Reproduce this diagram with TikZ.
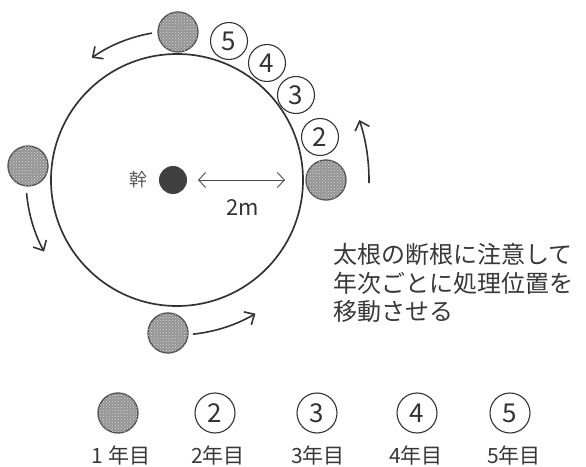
\documentclass[tikz,border=0pt]{standalone}
\usepackage{fontspec}
\setmainfont{Noto Sans CJK JP}
\usetikzlibrary{arrows.meta,patterns}
\begin{document}
\begin{tikzpicture}[x=1pt,y=1pt,
  root/.style={circle,draw=black!70,line width=1.3pt,fill=black!42,
    postaction={pattern=crosshatch dots,pattern color=white!85!black},
    minimum size=40pt,inner sep=0pt},
  yr/.style={circle,draw=black!80,line width=1.1pt,fill=white,minimum size=37pt,
    inner sep=0pt,text=black!80,font=\fontsize{26}{26}\selectfont},
  mv/.style={draw=black!80,line width=1.6pt,
    -{Straight Barb[length=8pt,width=15pt,line width=1.6pt]}},
  txt/.style={text=black!78,font=\fontsize{24}{28.5}\selectfont,align=left},
  lab/.style={text=black!78,font=\fontsize{21}{21}\selectfont}
]
\useasboundingbox (0,0) rectangle (586,466);
\coordinate (C) at (177,286);
\node[circle,draw=black!80,line width=1.7pt,minimum size=252pt,inner sep=0pt] (ring) at (C) {};
% first-year positions
\node[root] (gt) at (178,434) {};
\node[root] (gl) at (28,300) {};
\node[root] (gr) at (326,286) {};
\node[root] (gb) at (168,133) {};
% later years
\node[yr] (n5) at (229,425) {5};
\node[yr] (n4) at (267,403) {4};
\node[yr] (n3) at (296,371) {3};
\node[yr] (n2) at (320,329) {2};
% trunk
\node[circle,fill=black!75,minimum size=28pt,inner sep=0pt] (trunk) at (173,286) {};
\node[text=black!65,font=\fontsize{18}{18}\selectfont] (kan) at (138,286) {幹};
\coordinate (d1) at (198,286);
\coordinate (d2) at (285,286);
\draw[black!70,line width=0.9pt,
  {Straight Barb[length=7pt,width=15pt]}-{Straight Barb[length=7pt,width=15pt]}] (d1) -- (d2);
\node[text=black!80,font=\fontsize{22}{22}\selectfont] (dist) at (243,258) {2m};
% movement arrows
\coordinate (at) at ([shift={(99.7:149pt)}]C);
\coordinate (al) at ([shift={(184.95:151pt)}]C);
\coordinate (ab) at ([shift={(275.9:155pt)}]C);
\coordinate (ar) at ([shift={(-0.9:192pt)}]C);
\draw[mv] (at) arc[start angle=99.7,end angle=124.9,radius=149pt];
\draw[mv] (al) arc[start angle=184.95,end angle=208.3,radius=151pt];
\draw[mv] (ab) arc[start angle=275.9,end angle=300.4,radius=155pt];
\draw[mv] (ar) arc[start angle=-0.9,end angle=18.2,radius=192pt];
% note
\node[txt,anchor=west,inner sep=0pt] (note) at (333,183) {太根の断根に注意して\\年次ごとに処理位置を\\移動させる};
% legend
\node[root] (l1) at (118,53) {};
\node[yr,minimum size=40pt] (l2) at (215,53) {2};
\node[yr,minimum size=40pt] (l3) at (317,53) {3};
\node[yr,minimum size=40pt] (l4) at (417,53) {4};
\node[yr,minimum size=40pt] (l5) at (510,53) {5};
\node[lab] (t1) at (121,11) {1 年目};
\node[lab] (t2) at (218,11) {2年目};
\node[lab] (t3) at (318,11) {3年目};
\node[lab] (t4) at (416,11) {4年目};
\node[lab] (t5) at (514,11) {5年目};
\end{tikzpicture}
\end{document}
